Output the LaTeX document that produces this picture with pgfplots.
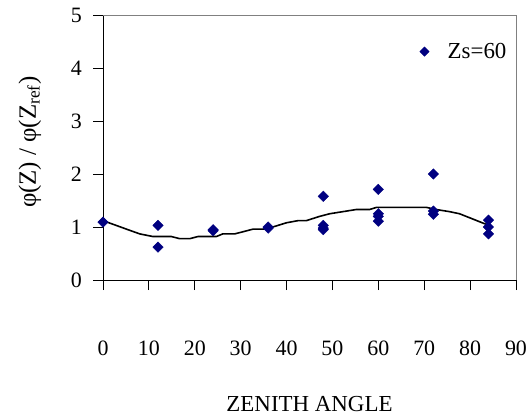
\documentclass[border=0pt]{standalone}
\usepackage{fontspec}
\setmainfont{Liberation Serif}
\usepackage{pgfplots}
\pgfplotsset{compat=1.18}
\definecolor{navy}{RGB}{0,0,128}
\begin{document}
\begin{tikzpicture}
\useasboundingbox (0,0) rectangle (530bp,416bp);
\begin{axis}[
  at={(103bp,136bp)}, anchor=south west,
  scale only axis, width=413bp, height=265bp,
  xmin=0, xmax=90, ymin=0, ymax=5,
  axis x line*=bottom, axis y line*=left,
  xtick={0,10,...,90}, ytick={0,1,...,5},
  tick align=outside, major tick length=10bp,
  tick style={black, line width=0.8bp},
  axis line style={black, line width=0.8bp},
  /pgf/number format/assume math mode=true,
  tick label style={font=\fontsize{22}{26}\selectfont},
  x tick label style={anchor=base, yshift=-65bp},
  y tick label style={anchor=east, inner sep=0pt, xshift=-11bp},
  xlabel={ZENITH ANGLE},
  xlabel style={at={(axis description cs:0.5,-0.498)}, anchor=base, font=\fontsize{23}{27}\selectfont},
  ylabel={φ(Z) / φ(Z\textsubscript{ref})},
  ylabel style={at={(axis description cs:-0.177,0.52)}, anchor=center, font=\fontsize{25}{29}\selectfont},
  legend style={at={(axis cs:69.0,4.31)}, anchor=west, draw=none, fill=none, font=\fontsize{23}{27}\selectfont, inner sep=0pt},
  legend image code/.code={\path (0bp,0bp) (16bp,0bp); \draw[#1, mark size=3.3bp] plot coordinates {(4bp,0bp)};},
  clip=false,
]
\draw[gray, line width=0.8bp] (rel axis cs:0,1) -- (rel axis cs:1,1) -- (rel axis cs:1,0);
\addplot[black, line width=1.6bp, forget plot] coordinates {
(0,1.12) (5.1,0.96) (8,0.87) (10.9,0.82) (14.9,0.82) (16.7,0.78) (18.9,0.78)
(20.7,0.82) (24.7,0.82) (26.1,0.87) (28.7,0.87) (30.5,0.91) (32.7,0.96) (35,0.96)
(37,1.0) (40,1.08) (42.5,1.12) (44.3,1.12) (47.2,1.2) (49.4,1.25) (52.3,1.29)
(55.2,1.33) (58.1,1.33) (59.6,1.37) (70.5,1.37) (72.6,1.33) (75.5,1.29) (77.7,1.25) (83.5,1.05)
};
\addplot[only marks, mark=square*, mark size=3.7bp, mark options={rotate=45, fill=navy, draw=navy}] coordinates {
(0,1.09) (12,1.03) (12,0.62) (24,0.95) (24,0.93) (36,1.0) (36,0.98)
(48,1.58) (48,1.03) (48,0.98) (48,0.95)
(60,1.71) (60,1.25) (60,1.2) (60,1.11)
(72,2.0) (72,1.3) (72,1.24)
(84,1.13) (84,1.0) (84,0.87)
};
\addlegendentry{\hspace*{9bp}Zs=60}
\end{axis}
\end{tikzpicture}
\end{document}
